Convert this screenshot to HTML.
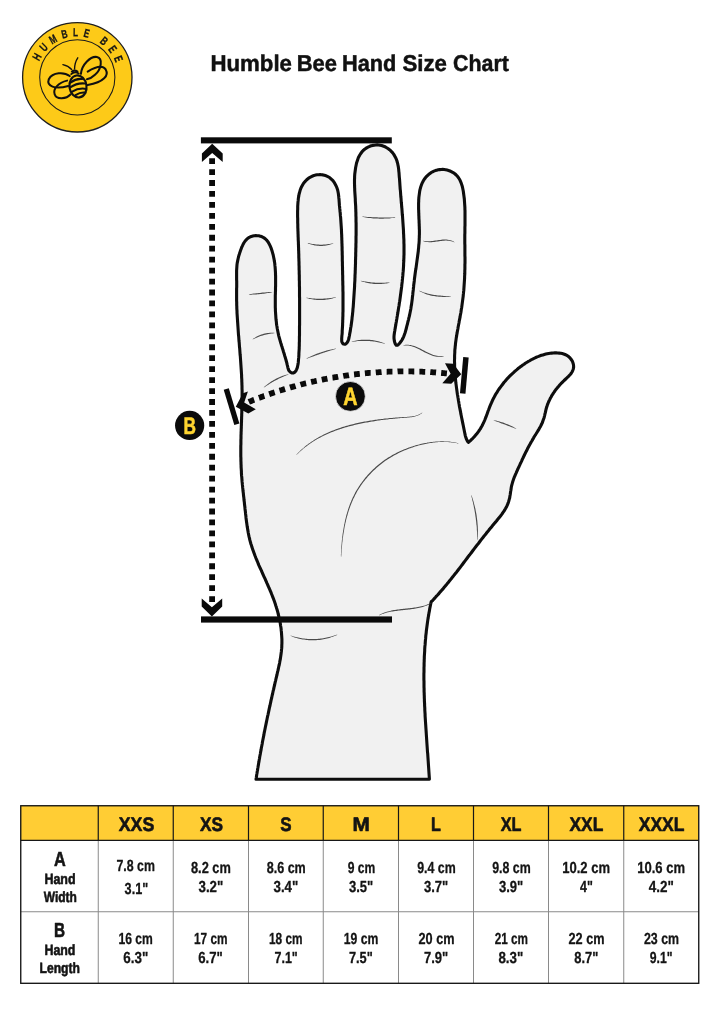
<!DOCTYPE html>
<html lang="en"><head><meta charset="utf-8"><title>Humble Bee Hand Size Chart</title>
<style>html,body{margin:0;padding:0;background:#fff}body{width:720px;height:1018px;overflow:hidden}svg{display:block;will-change:transform}text{font-family:"Liberation Sans",sans-serif;text-rendering:geometricPrecision}</style>
</head><body>
<svg width="720" height="1018" viewBox="0 0 720 1018">
<rect width="720" height="1018" fill="#ffffff"/>
<g id="logo">
<circle cx="77.3" cy="77.3" r="54.7" fill="#fdca18" stroke="#1f1f1f" stroke-width="1.3"/>
<circle cx="77.3" cy="77.3" r="37.6" fill="none" stroke="#1a1a1a" stroke-width="1.05"/>
<path id="arc" d="M 39.37 61.74 A 41.00 41.00 0 0 1 115.83 91.32" fill="none"/>
<text font-size="11.8" font-weight="bold" fill="#161616" stroke="#161616" stroke-width="0.3" letter-spacing="7.00" textLength="102.80" lengthAdjust="spacingAndGlyphs"><textPath href="#arc">HUMBLE BEE</textPath></text>
<g transform="translate(42 50) scale(0.097222)" fill="none" stroke="#101010" stroke-width="21" stroke-linecap="round" stroke-linejoin="round">
<path d="M285 268 C230 225 110 225 70 300 C45 370 130 410 270 370"/>
<path d="M258 315 C170 335 110 400 130 455 C150 515 250 505 295 455"/>
<path d="M400 245 C410 150 500 60 565 72 C630 85 610 200 545 255 C520 280 490 295 462 300"/>
<path d="M470 222 C540 180 620 150 655 200 C690 260 640 330 470 360"/>
<ellipse cx="370" cy="375" rx="88" ry="114" transform="rotate(-8 370 375)" fill="#fdca18" stroke-width="22"/>
<path d="M292 335 Q350 290 415 298 M290 385 Q360 335 445 345 M305 430 Q380 385 455 400 M345 465 Q400 430 448 440"/>
<path d="M300 248 Q335 215 378 242 M306 222 Q335 200 366 222" stroke-width="18"/>
<path d="M305 200 Q270 160 215 150 M335 195 Q335 130 368 80" stroke-width="14"/>
</g>
</g>
<text y="71" font-size="22.8" font-weight="bold" fill="#111111" stroke="#111111" stroke-width="0.5" stroke-linejoin="round"><tspan x="210.49" textLength="81.51" lengthAdjust="spacingAndGlyphs">Humble</tspan> <tspan x="296.68" textLength="40.25" lengthAdjust="spacingAndGlyphs">Bee</tspan> <tspan x="342.03" textLength="54.32" lengthAdjust="spacingAndGlyphs">Hand</tspan> <tspan x="402.43" textLength="44.49" lengthAdjust="spacingAndGlyphs">Size</tspan> <tspan x="453.10" textLength="55.80" lengthAdjust="spacingAndGlyphs">Chart</tspan></text>
<g id="hand">
<path d="M256.0 779.2 L256.3 777.7 L256.5 776.2 L256.7 774.8 L257.0 773.3 L257.2 771.8 L257.5 770.3 L257.7 768.8 L258.0 767.3 L258.2 765.9 L258.5 764.4 L258.7 762.9 L259.0 761.4 L259.2 760.0 L259.5 758.5 L259.7 757.0 L260.0 755.5 L260.3 754.0 L260.5 752.6 L260.8 751.1 L261.1 749.6 L261.3 748.1 L261.6 746.7 L261.9 745.2 L262.2 743.7 L262.4 742.2 L262.7 740.8 L263.0 739.3 L263.3 737.8 L263.6 736.3 L263.9 734.9 L264.1 733.4 L264.4 731.9 L264.7 730.5 L265.0 729.0 L265.3 727.5 L265.6 726.0 L265.9 724.6 L266.2 723.1 L266.5 721.6 L266.8 720.2 L267.1 718.7 L267.4 717.2 L267.7 715.8 L268.1 714.3 L268.4 712.8 L268.7 711.4 L269.0 709.9 L269.3 708.4 L269.6 707.0 L270.0 705.5 L270.3 704.0 L270.6 702.6 L270.9 701.1 L271.2 699.6 L271.6 698.2 L271.9 696.7 L272.2 695.2 L272.6 693.8 L272.9 692.3 L273.2 690.8 L273.6 689.4 L273.9 687.9 L274.2 686.5 L274.6 685.0 L274.9 683.5 L275.2 682.1 L275.6 680.6 L275.9 679.2 L276.3 677.7 L276.6 676.2 L277.0 674.8 L277.3 673.3 L277.6 671.8 L278.0 670.4 L278.3 668.9 L278.6 667.5 L278.9 666.0 L279.3 664.5 L279.6 663.0 L279.8 661.6 L280.1 660.1 L280.4 658.6 L280.6 657.1 L280.8 655.7 L281.0 654.2 L281.2 652.7 L281.4 651.2 L281.5 649.7 L281.7 648.2 L281.8 646.7 L281.8 645.2 L281.9 643.7 L281.9 642.2 L281.9 640.7 L281.9 639.2 L281.8 637.7 L281.7 636.2 L281.6 634.7 L281.5 633.2 L281.4 631.7 L281.2 630.2 L281.1 628.7 L280.9 627.3 L280.6 625.8 L280.4 624.3 L280.2 622.8 L279.9 621.3 L279.6 619.9 L279.3 618.4 L278.9 616.9 L278.6 615.5 L278.2 614.0 L277.9 612.6 L277.5 611.1 L277.1 609.7 L276.6 608.2 L276.2 606.8 L275.7 605.4 L275.3 603.9 L274.8 602.5 L274.3 601.1 L273.8 599.7 L273.3 598.3 L272.7 596.9 L272.2 595.5 L271.6 594.1 L271.1 592.7 L270.5 591.3 L269.9 589.9 L269.3 588.5 L268.7 587.2 L268.1 585.8 L267.5 584.4 L266.9 583.1 L266.3 581.7 L265.7 580.3 L265.1 578.9 L264.5 577.6 L263.8 576.2 L263.2 574.8 L262.6 573.5 L262.0 572.1 L261.4 570.7 L260.8 569.4 L260.1 568.0 L259.5 566.6 L258.9 565.3 L258.3 563.9 L257.8 562.5 L257.2 561.1 L256.6 559.7 L256.0 558.3 L255.5 556.9 L254.9 555.5 L254.4 554.1 L253.9 552.7 L253.4 551.3 L252.9 549.9 L252.4 548.5 L251.9 547.1 L251.5 545.6 L251.0 544.2 L250.6 542.8 L250.2 541.3 L249.8 539.9 L249.5 538.4 L249.1 536.9 L248.8 535.5 L248.5 534.0 L248.2 532.5 L248.0 531.1 L247.7 529.6 L247.5 528.1 L247.2 526.6 L247.0 525.1 L246.8 523.6 L246.6 522.2 L246.4 520.7 L246.2 519.2 L246.0 517.7 L245.9 516.2 L245.7 514.7 L245.5 513.2 L245.4 511.7 L245.2 510.2 L245.0 508.7 L244.9 507.2 L244.7 505.8 L244.5 504.3 L244.4 502.8 L244.2 501.3 L244.0 499.8 L243.9 498.3 L243.7 496.8 L243.5 495.3 L243.4 493.8 L243.2 492.3 L243.0 490.8 L242.9 489.4 L242.7 487.9 L242.6 486.4 L242.4 484.9 L242.3 483.4 L242.1 481.9 L242.0 480.4 L241.9 478.9 L241.8 477.4 L241.6 475.9 L241.5 474.4 L241.4 472.9 L241.4 471.4 L241.3 469.9 L241.2 468.4 L241.1 466.9 L241.1 465.4 L241.0 463.9 L241.0 462.4 L240.9 460.9 L240.9 459.4 L240.9 457.9 L240.8 456.4 L240.8 454.9 L240.8 453.4 L240.8 451.9 L240.8 450.4 L240.8 448.9 L240.8 447.4 L240.8 445.9 L240.9 444.4 L240.9 442.9 L240.9 441.4 L240.9 439.9 L241.0 438.4 L241.0 436.9 L241.0 435.4 L241.1 433.9 L241.1 432.4 L241.2 430.9 L241.2 429.4 L241.3 427.9 L241.3 426.4 L241.4 424.9 L241.4 423.4 L241.5 421.9 L241.5 420.4 L241.6 418.9 L241.6 417.4 L241.7 415.9 L241.7 414.4 L241.8 412.9 L241.8 411.4 L241.8 409.9 L241.9 408.4 L241.9 406.9 L242.0 405.4 L242.0 403.9 L242.0 402.4 L242.0 400.9 L242.1 399.4 L242.1 397.9 L242.1 396.4 L242.1 394.9 L242.1 393.4 L242.1 391.9 L242.1 390.4 L242.0 388.9 L242.0 387.4 L242.0 385.9 L241.9 384.4 L241.9 382.9 L241.8 381.4 L241.8 379.9 L241.7 378.4 L241.6 376.9 L241.6 375.4 L241.5 373.9 L241.4 372.4 L241.3 370.9 L241.2 369.4 L241.1 367.9 L241.0 366.4 L240.9 364.9 L240.8 363.4 L240.7 361.9 L240.6 360.5 L240.5 359.0 L240.4 357.5 L240.3 356.0 L240.1 354.5 L240.0 353.0 L239.9 351.5 L239.8 350.0 L239.7 348.5 L239.5 347.0 L239.4 345.5 L239.3 344.0 L239.2 342.5 L239.0 341.0 L238.9 339.5 L238.8 338.0 L238.7 336.5 L238.5 335.0 L238.4 333.5 L238.3 332.0 L238.2 330.5 L238.1 329.0 L238.0 327.5 L237.9 326.1 L237.8 324.6 L237.7 323.1 L237.6 321.6 L237.5 320.1 L237.4 318.6 L237.3 317.1 L237.2 315.6 L237.1 314.1 L237.0 312.6 L237.0 311.1 L236.9 309.6 L236.8 308.1 L236.8 306.6 L236.7 305.1 L236.7 303.6 L236.7 302.1 L236.6 300.6 L236.6 299.1 L236.6 297.6 L236.6 296.1 L236.6 294.6 L236.6 293.1 L236.6 291.6 L236.6 290.1 L236.6 288.6 L236.7 287.1 L236.7 285.6 L236.7 284.1 L236.7 282.6 L236.7 281.1 L236.6 279.6 L236.6 278.1 L236.6 276.6 L236.6 275.1 L236.6 273.6 L236.6 272.1 L236.6 270.6 L236.7 269.1 L236.8 267.6 L236.9 266.1 L237.0 264.6 L237.2 263.1 L237.5 261.6 L237.8 260.1 L238.1 258.7 L238.5 257.2 L238.8 255.8 L239.3 254.3 L239.7 252.9 L240.2 251.5 L240.7 250.1 L241.2 248.7 L241.7 247.3 L242.4 245.9 L243.0 244.5 L243.7 243.2 L244.5 242.0 L245.4 240.7 L246.4 239.6 L247.5 238.6 L248.7 237.7 L250.0 237.0 L251.4 236.4 L252.8 236.0 L254.3 235.7 L255.8 235.6 L257.3 235.7 L258.8 235.8 L260.3 236.2 L261.7 236.6 L263.1 237.3 L264.3 238.1 L265.5 239.0 L266.6 240.1 L267.5 241.2 L268.4 242.5 L269.1 243.7 L269.8 245.1 L270.4 246.4 L271.0 247.8 L271.5 249.3 L272.0 250.7 L272.4 252.1 L272.8 253.6 L273.2 255.0 L273.5 256.5 L273.8 258.0 L274.1 259.4 L274.3 260.9 L274.6 262.4 L274.8 263.9 L274.9 265.4 L275.1 266.9 L275.2 268.4 L275.3 269.8 L275.4 271.3 L275.5 272.8 L275.5 274.3 L275.6 275.8 L275.6 277.3 L275.6 278.8 L275.6 280.3 L275.6 281.8 L275.6 283.3 L275.6 284.8 L275.6 286.3 L275.5 287.8 L275.5 289.3 L275.5 290.8 L275.4 292.3 L275.4 293.8 L275.3 295.3 L275.3 296.8 L275.3 298.3 L275.3 299.8 L275.3 301.3 L275.3 302.8 L275.3 304.3 L275.3 305.9 L275.3 307.4 L275.4 308.9 L275.4 310.3 L275.5 311.8 L275.6 313.3 L275.7 314.8 L275.8 316.3 L275.9 317.8 L276.0 319.3 L276.2 320.8 L276.4 322.3 L276.5 323.8 L276.7 325.3 L277.0 326.8 L277.2 328.3 L277.5 329.7 L277.8 331.2 L278.1 332.7 L278.4 334.1 L278.7 335.6 L279.1 337.1 L279.5 338.5 L279.9 339.9 L280.3 341.4 L280.7 342.8 L281.2 344.3 L281.6 345.7 L282.1 347.1 L282.5 348.6 L283.0 350.0 L283.4 351.4 L283.9 352.9 L284.3 354.3 L284.7 355.7 L285.2 357.2 L285.6 358.6 L286.0 360.0 L286.4 361.5 L286.8 362.9 L287.1 364.4 L287.5 365.9 L287.8 367.3 L288.2 368.8 L288.7 370.2 L289.6 371.4 L290.7 372.4 L292.1 373.0 L293.5 372.9 L294.8 372.1 L295.8 371.0 L296.5 369.6 L297.1 368.2 L297.5 366.8 L297.8 365.3 L298.1 363.9 L298.3 362.4 L298.4 360.9 L298.5 359.4 L298.7 357.9 L298.8 356.4 L298.9 354.9 L298.9 353.4 L299.0 351.9 L299.1 350.4 L299.2 348.9 L299.2 347.4 L299.3 345.9 L299.3 344.4 L299.3 342.9 L299.4 341.4 L299.4 339.9 L299.4 338.4 L299.4 336.9 L299.5 335.4 L299.5 333.9 L299.5 332.4 L299.5 330.9 L299.5 329.4 L299.5 327.9 L299.5 326.4 L299.6 324.9 L299.6 323.4 L299.6 321.9 L299.6 320.4 L299.6 318.9 L299.6 317.4 L299.6 315.9 L299.6 314.4 L299.6 312.9 L299.6 311.4 L299.6 309.9 L299.6 308.4 L299.6 306.9 L299.6 305.4 L299.6 303.9 L299.6 302.4 L299.6 300.9 L299.6 299.4 L299.6 297.9 L299.5 296.4 L299.5 294.9 L299.5 293.4 L299.5 291.9 L299.5 290.4 L299.5 288.9 L299.5 287.4 L299.4 285.9 L299.4 284.4 L299.4 282.9 L299.4 281.4 L299.3 279.9 L299.3 278.4 L299.3 276.9 L299.3 275.4 L299.2 273.9 L299.2 272.4 L299.2 270.9 L299.1 269.4 L299.1 267.9 L299.1 266.4 L299.0 264.9 L299.0 263.4 L299.0 261.9 L298.9 260.4 L298.9 258.9 L298.8 257.4 L298.8 255.9 L298.8 254.4 L298.7 252.9 L298.7 251.4 L298.6 249.9 L298.6 248.4 L298.5 246.9 L298.5 245.4 L298.4 243.9 L298.4 242.4 L298.3 240.9 L298.2 239.4 L298.2 237.9 L298.1 236.4 L298.1 234.9 L298.0 233.4 L298.0 231.9 L297.9 230.4 L297.9 228.9 L297.8 227.4 L297.8 225.9 L297.8 224.4 L297.7 222.9 L297.7 221.4 L297.7 219.9 L297.7 218.4 L297.6 216.9 L297.6 215.4 L297.6 213.9 L297.6 212.4 L297.6 210.9 L297.7 209.4 L297.7 207.9 L297.7 206.4 L297.8 204.9 L297.9 203.4 L298.0 201.9 L298.2 200.4 L298.3 198.9 L298.5 197.4 L298.8 195.9 L299.0 194.5 L299.4 193.0 L299.8 191.6 L300.2 190.1 L300.7 188.7 L301.3 187.3 L302.0 186.0 L302.7 184.7 L303.5 183.4 L304.4 182.2 L305.4 181.1 L306.5 180.0 L307.6 179.0 L308.8 178.1 L310.0 177.3 L311.4 176.6 L312.7 176.0 L314.1 175.4 L315.6 175.1 L317.1 174.8 L318.6 174.7 L320.1 174.6 L321.5 174.7 L323.0 174.9 L324.5 175.3 L325.9 175.7 L327.3 176.3 L328.6 177.0 L329.9 177.8 L331.0 178.8 L332.1 179.8 L333.1 180.9 L334.0 182.2 L334.8 183.4 L335.5 184.7 L336.2 186.1 L336.8 187.5 L337.3 188.9 L337.7 190.3 L338.0 191.8 L338.3 193.3 L338.5 194.7 L338.7 196.2 L338.8 197.7 L339.0 199.2 L339.1 200.7 L339.2 202.2 L339.3 203.7 L339.4 205.2 L339.6 206.7 L339.7 208.2 L339.9 209.7 L340.0 211.2 L340.2 212.7 L340.3 214.2 L340.4 215.7 L340.6 217.1 L340.7 218.6 L340.8 220.1 L340.9 221.6 L341.0 223.1 L341.1 224.6 L341.2 226.1 L341.3 227.6 L341.4 229.1 L341.5 230.6 L341.5 232.1 L341.6 233.6 L341.7 235.1 L341.7 236.6 L341.8 238.1 L341.8 239.6 L341.9 241.1 L341.9 242.6 L342.0 244.1 L342.0 245.6 L342.1 247.1 L342.1 248.6 L342.1 250.1 L342.2 251.6 L342.2 253.1 L342.2 254.6 L342.3 256.1 L342.3 257.6 L342.3 259.1 L342.3 260.6 L342.4 262.1 L342.4 263.6 L342.4 265.1 L342.5 266.6 L342.5 268.1 L342.5 269.6 L342.6 271.1 L342.6 272.6 L342.6 274.1 L342.7 275.6 L342.7 277.1 L342.7 278.6 L342.7 280.1 L342.8 281.6 L342.8 283.1 L342.8 284.6 L342.9 286.1 L342.9 287.6 L342.9 289.1 L342.9 290.6 L343.0 292.1 L343.0 293.6 L343.0 295.1 L343.0 296.6 L343.0 298.1 L343.0 299.6 L343.0 301.1 L343.0 302.6 L343.0 304.1 L343.0 305.6 L343.0 307.1 L343.0 308.6 L343.0 310.1 L343.0 311.6 L342.9 313.1 L342.9 314.6 L342.9 316.1 L342.8 317.6 L342.8 319.1 L342.7 320.6 L342.7 322.1 L342.6 323.6 L342.6 325.1 L342.5 326.6 L342.4 328.1 L342.3 329.6 L342.2 331.1 L342.2 332.6 L342.1 334.1 L341.9 335.6 L341.8 337.1 L341.7 338.6 L341.7 340.1 L341.8 341.6 L342.4 343.0 L343.5 344.0 L344.9 344.3 L346.2 343.6 L347.2 342.4 L348.0 341.1 L348.5 339.7 L348.9 338.3 L349.2 336.8 L349.5 335.3 L349.7 333.9 L350.0 332.4 L350.3 330.9 L350.5 329.4 L350.7 327.9 L351.0 326.5 L351.2 325.0 L351.4 323.5 L351.6 322.0 L351.8 320.5 L352.0 319.0 L352.1 317.5 L352.3 316.0 L352.5 314.6 L352.6 313.1 L352.8 311.6 L352.9 310.1 L353.0 308.6 L353.2 307.1 L353.3 305.6 L353.4 304.1 L353.5 302.6 L353.6 301.1 L353.7 299.6 L353.8 298.1 L353.9 296.6 L354.0 295.1 L354.1 293.6 L354.2 292.1 L354.3 290.6 L354.4 289.1 L354.5 287.6 L354.6 286.1 L354.6 284.6 L354.7 283.1 L354.8 281.6 L354.9 280.1 L354.9 278.6 L355.0 277.1 L355.0 275.6 L355.1 274.1 L355.2 272.6 L355.2 271.1 L355.3 269.6 L355.3 268.1 L355.4 266.6 L355.4 265.1 L355.5 263.6 L355.5 262.1 L355.5 260.6 L355.6 259.1 L355.6 257.6 L355.7 256.1 L355.7 254.6 L355.7 253.1 L355.8 251.6 L355.8 250.1 L355.8 248.6 L355.9 247.1 L355.9 245.6 L355.9 244.1 L356.0 242.6 L356.0 241.1 L356.0 239.6 L356.0 238.1 L356.0 236.6 L356.1 235.1 L356.1 233.6 L356.1 232.1 L356.1 230.6 L356.1 229.1 L356.1 227.6 L356.1 226.1 L356.1 224.6 L356.1 223.1 L356.0 221.6 L356.0 220.1 L356.0 218.6 L356.0 217.1 L355.9 215.6 L355.9 214.1 L355.9 212.6 L355.8 211.1 L355.8 209.6 L355.7 208.1 L355.7 206.6 L355.6 205.1 L355.5 203.6 L355.4 202.1 L355.3 200.6 L355.3 199.1 L355.2 197.6 L355.1 196.1 L355.0 194.6 L354.9 193.1 L354.8 191.7 L354.7 190.2 L354.7 188.7 L354.6 187.2 L354.6 185.7 L354.5 184.2 L354.5 182.7 L354.5 181.2 L354.5 179.7 L354.6 178.2 L354.6 176.7 L354.7 175.2 L354.8 173.7 L355.0 172.2 L355.2 170.7 L355.4 169.2 L355.6 167.7 L355.9 166.2 L356.2 164.8 L356.5 163.3 L356.9 161.9 L357.4 160.4 L357.9 159.0 L358.4 157.6 L359.1 156.3 L359.8 155.0 L360.6 153.7 L361.5 152.5 L362.4 151.3 L363.5 150.2 L364.6 149.3 L365.8 148.4 L367.1 147.6 L368.5 146.9 L369.8 146.3 L371.2 145.8 L372.7 145.4 L374.2 145.2 L375.7 145.0 L377.2 144.9 L378.7 145.0 L380.1 145.2 L381.6 145.5 L383.0 146.0 L384.4 146.5 L385.8 147.2 L387.1 148.0 L388.3 148.8 L389.5 149.7 L390.6 150.7 L391.7 151.8 L392.7 152.9 L393.6 154.1 L394.4 155.4 L395.1 156.7 L395.8 158.0 L396.4 159.4 L396.9 160.8 L397.3 162.2 L397.7 163.7 L398.0 165.2 L398.3 166.6 L398.5 168.1 L398.7 169.6 L398.8 171.1 L399.0 172.6 L399.1 174.1 L399.2 175.6 L399.3 177.1 L399.5 178.6 L399.6 180.1 L399.7 181.6 L399.8 183.1 L399.9 184.6 L400.0 186.1 L400.1 187.6 L400.2 189.1 L400.4 190.6 L400.5 192.0 L400.6 193.5 L400.7 195.0 L400.8 196.5 L401.0 198.0 L401.1 199.5 L401.2 201.0 L401.3 202.5 L401.5 204.0 L401.6 205.5 L401.7 207.0 L401.9 208.5 L402.0 210.0 L402.1 211.5 L402.2 213.0 L402.3 214.5 L402.5 216.0 L402.6 217.5 L402.7 219.0 L402.8 220.5 L402.9 222.0 L403.0 223.5 L403.1 225.0 L403.2 226.5 L403.3 227.9 L403.4 229.4 L403.5 230.9 L403.5 232.4 L403.6 233.9 L403.7 235.4 L403.7 236.9 L403.8 238.4 L403.9 239.9 L403.9 241.4 L403.9 242.9 L404.0 244.4 L404.0 245.9 L404.0 247.4 L404.0 248.9 L404.0 250.4 L404.0 251.9 L404.0 253.4 L404.0 254.9 L403.9 256.4 L403.9 257.9 L403.8 259.4 L403.8 260.9 L403.7 262.4 L403.6 263.9 L403.6 265.4 L403.5 266.9 L403.4 268.4 L403.3 269.9 L403.2 271.4 L403.0 272.9 L402.9 274.4 L402.8 275.9 L402.6 277.4 L402.5 278.9 L402.3 280.4 L402.2 281.9 L402.0 283.4 L401.8 284.9 L401.7 286.4 L401.5 287.8 L401.3 289.3 L401.1 290.8 L400.9 292.3 L400.7 293.8 L400.5 295.3 L400.3 296.8 L400.1 298.3 L399.9 299.7 L399.7 301.2 L399.4 302.7 L399.2 304.2 L399.0 305.7 L398.7 307.2 L398.5 308.6 L398.3 310.1 L398.0 311.6 L397.8 313.1 L397.5 314.6 L397.3 316.0 L397.0 317.5 L396.8 319.0 L396.5 320.5 L396.3 322.0 L396.0 323.4 L395.8 324.9 L395.5 326.4 L395.3 327.9 L395.0 329.3 L394.8 330.8 L394.5 332.3 L394.3 333.8 L394.1 335.3 L394.0 336.8 L394.0 338.3 L394.2 339.8 L394.4 341.2 L394.8 342.7 L395.4 344.1 L396.3 345.3 L397.7 345.1 L398.8 344.1 L399.8 343.0 L400.7 341.8 L401.6 340.6 L402.4 339.3 L403.0 338.0 L403.7 336.6 L404.2 335.2 L404.7 333.8 L405.2 332.4 L405.6 330.9 L406.0 329.5 L406.4 328.0 L406.7 326.6 L407.1 325.1 L407.5 323.7 L407.8 322.2 L408.2 320.8 L408.6 319.3 L408.9 317.8 L409.3 316.4 L409.6 314.9 L409.9 313.5 L410.2 312.0 L410.5 310.5 L410.8 309.0 L411.0 307.6 L411.2 306.1 L411.5 304.6 L411.7 303.1 L411.9 301.6 L412.1 300.1 L412.3 298.6 L412.4 297.2 L412.6 295.7 L412.8 294.2 L412.9 292.7 L413.1 291.2 L413.3 289.7 L413.4 288.2 L413.6 286.7 L413.7 285.2 L413.9 283.7 L414.1 282.2 L414.3 280.7 L414.4 279.3 L414.6 277.8 L414.8 276.3 L415.0 274.8 L415.2 273.3 L415.4 271.8 L415.6 270.3 L415.9 268.9 L416.1 267.4 L416.3 265.9 L416.5 264.4 L416.7 262.9 L416.9 261.4 L417.1 259.9 L417.3 258.5 L417.5 257.0 L417.7 255.5 L417.9 254.0 L418.1 252.5 L418.3 251.0 L418.4 249.5 L418.6 248.0 L418.7 246.5 L418.8 245.0 L419.0 243.5 L419.1 242.0 L419.2 240.5 L419.2 239.0 L419.3 237.5 L419.3 236.0 L419.4 234.5 L419.4 233.0 L419.4 231.5 L419.4 230.0 L419.3 228.5 L419.3 227.0 L419.2 225.5 L419.2 224.0 L419.1 222.5 L419.1 221.0 L419.0 219.5 L418.9 218.1 L418.9 216.6 L418.8 215.1 L418.8 213.6 L418.7 212.1 L418.7 210.6 L418.6 209.1 L418.6 207.6 L418.6 206.1 L418.6 204.6 L418.6 203.1 L418.7 201.6 L418.7 200.1 L418.8 198.6 L418.9 197.1 L419.1 195.6 L419.3 194.1 L419.5 192.6 L419.7 191.1 L420.0 189.6 L420.4 188.2 L420.8 186.7 L421.3 185.3 L421.8 183.9 L422.4 182.6 L423.1 181.2 L423.9 179.9 L424.7 178.7 L425.6 177.5 L426.6 176.4 L427.7 175.3 L428.8 174.3 L430.0 173.4 L431.2 172.5 L432.5 171.8 L433.9 171.1 L435.3 170.6 L436.7 170.2 L438.2 169.8 L439.7 169.6 L441.2 169.5 L442.7 169.4 L444.2 169.5 L445.6 169.7 L447.1 170.1 L448.5 170.5 L450.0 171.0 L451.3 171.6 L452.6 172.3 L453.9 173.1 L455.1 174.0 L456.2 175.0 L457.3 176.1 L458.2 177.3 L459.0 178.5 L459.8 179.8 L460.4 181.2 L461.0 182.6 L461.5 184.0 L462.0 185.4 L462.4 186.9 L462.7 188.3 L463.0 189.8 L463.3 191.3 L463.5 192.7 L463.7 194.2 L463.9 195.7 L464.1 197.2 L464.3 198.7 L464.4 200.2 L464.5 201.7 L464.6 203.2 L464.7 204.7 L464.8 206.2 L464.9 207.7 L464.9 209.2 L465.0 210.7 L465.0 212.2 L465.0 213.7 L465.0 215.2 L465.0 216.7 L465.0 218.2 L465.0 219.7 L465.0 221.2 L465.0 222.7 L465.0 224.2 L465.0 225.7 L464.9 227.2 L464.9 228.7 L464.9 230.2 L464.9 231.7 L464.9 233.2 L464.8 234.7 L464.8 236.2 L464.8 237.7 L464.8 239.2 L464.8 240.7 L464.8 242.2 L464.8 243.7 L464.9 245.2 L464.9 246.7 L464.9 248.2 L464.9 249.7 L464.9 251.2 L464.9 252.7 L464.9 254.2 L464.9 255.7 L465.0 257.2 L465.0 258.7 L465.0 260.2 L465.0 261.7 L465.0 263.2 L464.9 264.7 L464.9 266.2 L464.9 267.7 L464.9 269.2 L464.8 270.7 L464.8 272.2 L464.8 273.7 L464.7 275.2 L464.6 276.7 L464.6 278.2 L464.5 279.7 L464.4 281.2 L464.3 282.7 L464.2 284.2 L464.1 285.7 L464.0 287.2 L463.9 288.7 L463.8 290.2 L463.6 291.7 L463.5 293.2 L463.3 294.6 L463.2 296.1 L463.0 297.6 L462.8 299.1 L462.6 300.6 L462.4 302.1 L462.2 303.6 L462.0 305.1 L461.8 306.6 L461.6 308.0 L461.3 309.5 L461.1 311.0 L460.9 312.5 L460.6 314.0 L460.3 315.4 L460.1 316.9 L459.8 318.4 L459.5 319.9 L459.2 321.3 L459.0 322.8 L458.7 324.3 L458.4 325.8 L458.1 327.2 L457.9 328.7 L457.6 330.2 L457.3 331.7 L457.1 333.1 L456.8 334.6 L456.6 336.1 L456.3 337.6 L456.1 339.1 L455.9 340.6 L455.7 342.0 L455.5 343.5 L455.4 345.0 L455.2 346.5 L455.1 348.0 L454.9 349.5 L454.8 351.0 L454.8 352.5 L454.7 354.0 L454.6 355.5 L454.6 357.0 L454.6 358.5 L454.5 360.0 L454.5 361.5 L454.6 363.0 L454.6 364.5 L454.6 366.0 L454.7 367.5 L454.7 369.0 L454.8 370.5 L454.9 372.0 L455.0 373.5 L455.1 375.0 L455.3 376.5 L455.4 378.0 L455.5 379.5 L455.7 381.0 L455.8 382.5 L456.0 383.9 L456.2 385.4 L456.4 386.9 L456.6 388.4 L456.8 389.9 L457.0 391.4 L457.2 392.9 L457.4 394.3 L457.7 395.8 L457.9 397.3 L458.2 398.8 L458.4 400.3 L458.7 401.8 L458.9 403.2 L459.2 404.7 L459.4 406.2 L459.7 407.7 L460.0 409.1 L460.3 410.6 L460.6 412.1 L460.8 413.6 L461.1 415.0 L461.4 416.5 L461.7 418.0 L462.0 419.4 L462.3 420.9 L462.6 422.4 L462.9 423.9 L463.2 425.3 L463.5 426.8 L463.8 428.3 L464.1 429.7 L464.4 431.2 L464.7 432.7 L465.0 434.1 L465.3 435.6 L465.7 437.1 L466.2 438.5 L466.8 439.8 L467.5 441.2 L468.4 442.4 L468.4 442.4 L469.6 441.4 L470.7 440.4 L471.7 439.3 L472.8 438.3 L473.8 437.2 L474.8 436.1 L475.8 434.9 L476.8 433.8 L477.7 432.6 L478.6 431.4 L479.4 430.1 L480.3 428.9 L481.0 427.6 L481.8 426.3 L482.5 425.0 L483.1 423.6 L483.8 422.2 L484.4 420.9 L485.0 419.5 L485.5 418.1 L486.1 416.7 L486.6 415.3 L487.1 413.9 L487.6 412.5 L488.1 411.0 L488.7 409.6 L489.2 408.2 L489.7 406.8 L490.3 405.4 L490.9 404.0 L491.5 402.7 L492.1 401.3 L492.7 399.9 L493.4 398.6 L494.1 397.3 L494.8 395.9 L495.5 394.6 L496.3 393.3 L497.1 392.1 L497.9 390.8 L498.7 389.5 L499.6 388.3 L500.5 387.1 L501.4 385.9 L502.3 384.7 L503.2 383.5 L504.1 382.3 L505.1 381.2 L506.1 380.0 L507.1 378.9 L508.1 377.8 L509.2 376.7 L510.2 375.7 L511.3 374.6 L512.4 373.6 L513.5 372.6 L514.6 371.5 L515.7 370.6 L516.9 369.6 L518.0 368.6 L519.2 367.7 L520.4 366.8 L521.6 365.9 L522.8 365.0 L524.1 364.2 L525.3 363.3 L526.6 362.5 L527.9 361.7 L529.2 361.0 L530.5 360.2 L531.8 359.5 L533.1 358.8 L534.5 358.2 L535.8 357.5 L537.2 356.9 L538.6 356.4 L540.0 355.8 L541.4 355.3 L542.9 354.9 L544.3 354.5 L545.8 354.1 L547.2 353.8 L548.7 353.5 L550.2 353.3 L551.7 353.1 L553.2 353.0 L554.7 352.9 L556.2 352.9 L557.7 353.0 L559.2 353.1 L560.7 353.3 L562.2 353.6 L563.6 354.0 L565.0 354.5 L566.4 355.2 L567.7 355.9 L568.9 356.8 L570.0 357.9 L570.9 359.0 L571.8 360.3 L572.5 361.6 L573.0 363.0 L573.4 364.4 L573.6 365.9 L573.6 367.4 L573.3 368.9 L572.8 370.3 L572.2 371.7 L571.4 373.0 L570.5 374.2 L569.5 375.3 L568.5 376.4 L567.4 377.4 L566.3 378.5 L565.2 379.5 L564.1 380.5 L563.0 381.6 L562.0 382.6 L560.9 383.7 L559.9 384.8 L558.9 386.0 L557.9 387.1 L557.0 388.3 L556.0 389.4 L555.1 390.6 L554.3 391.9 L553.4 393.1 L552.6 394.4 L551.8 395.6 L551.1 396.9 L550.3 398.3 L549.7 399.6 L549.0 401.0 L548.4 402.3 L547.9 403.7 L547.3 405.1 L546.9 406.6 L546.4 408.0 L546.0 409.5 L545.7 410.9 L545.4 412.4 L545.0 413.8 L544.7 415.3 L544.3 416.8 L543.9 418.2 L543.4 419.6 L542.9 421.1 L542.4 422.5 L541.8 423.8 L541.1 425.2 L540.5 426.5 L539.7 427.8 L539.0 429.1 L538.2 430.4 L537.4 431.7 L536.6 433.0 L535.8 434.3 L535.0 435.5 L534.2 436.8 L533.5 438.1 L532.7 439.4 L532.0 440.7 L531.2 442.0 L530.5 443.3 L529.8 444.6 L529.0 446.0 L528.3 447.3 L527.6 448.6 L527.0 450.0 L526.3 451.3 L525.6 452.6 L524.9 454.0 L524.3 455.3 L523.6 456.7 L523.0 458.0 L522.3 459.4 L521.7 460.8 L521.1 462.1 L520.4 463.5 L519.8 464.9 L519.2 466.2 L518.5 467.6 L517.9 469.0 L517.3 470.3 L516.7 471.7 L516.1 473.1 L515.5 474.4 L514.9 475.8 L514.3 477.2 L513.8 478.6 L513.3 480.0 L512.8 481.5 L512.4 482.9 L512.0 484.4 L511.6 485.8 L511.3 487.3 L511.1 488.8 L510.9 490.3 L510.6 491.7 L510.4 493.2 L510.2 494.7 L509.9 496.2 L509.7 497.7 L509.3 499.1 L508.9 500.6 L508.5 502.0 L508.0 503.4 L507.4 504.8 L506.8 506.2 L506.1 507.5 L505.4 508.8 L504.6 510.1 L503.8 511.4 L502.9 512.6 L502.1 513.9 L501.2 515.1 L500.3 516.3 L499.3 517.5 L498.4 518.6 L497.4 519.8 L496.5 521.0 L495.5 522.1 L494.5 523.2 L493.6 524.4 L492.6 525.5 L491.7 526.7 L490.7 527.9 L489.7 529.0 L488.8 530.2 L487.8 531.4 L486.9 532.5 L486.0 533.7 L485.0 534.9 L484.1 536.1 L483.2 537.2 L482.2 538.4 L481.3 539.6 L480.4 540.8 L479.5 542.0 L478.6 543.2 L477.6 544.4 L476.7 545.6 L475.8 546.7 L474.9 547.9 L474.0 549.1 L473.1 550.3 L472.2 551.5 L471.3 552.7 L470.4 553.9 L469.5 555.1 L468.5 556.3 L467.6 557.5 L466.7 558.7 L465.8 559.9 L464.9 561.1 L464.0 562.3 L463.1 563.5 L462.2 564.7 L461.3 565.9 L460.4 567.1 L459.5 568.3 L458.5 569.5 L457.6 570.7 L456.7 571.9 L455.8 573.0 L454.8 574.2 L453.9 575.4 L453.0 576.6 L452.0 577.8 L451.1 578.9 L450.2 580.1 L449.2 581.3 L448.3 582.4 L447.3 583.6 L446.4 584.8 L445.4 585.9 L444.4 587.1 L443.5 588.2 L442.5 589.4 L441.5 590.5 L440.5 591.6 L439.5 592.8 L438.6 593.9 L437.6 595.0 L436.5 596.1 L435.5 597.3 L434.5 598.4 L433.5 599.5 L432.5 600.6 L431.4 601.6 L431.3 601.5 L430.9 603.0 L430.6 604.5 L430.3 606.0 L430.0 607.4 L429.7 608.9 L429.5 610.4 L429.2 611.9 L428.9 613.4 L428.7 614.9 L428.4 616.4 L428.2 617.9 L427.9 619.4 L427.7 620.9 L427.5 622.3 L427.3 623.8 L427.1 625.3 L426.9 626.8 L426.7 628.3 L426.5 629.8 L426.3 631.3 L426.2 632.8 L426.0 634.3 L425.8 635.8 L425.7 637.4 L425.6 638.9 L425.4 640.4 L425.3 641.9 L425.2 643.4 L425.1 644.9 L424.9 646.4 L424.8 647.9 L424.7 649.4 L424.7 650.9 L424.6 652.4 L424.5 653.9 L424.4 655.4 L424.3 656.9 L424.3 658.5 L424.2 660.0 L424.2 661.5 L424.1 663.0 L424.1 664.5 L424.1 666.0 L424.0 667.5 L424.0 669.0 L424.0 670.5 L424.0 672.1 L423.9 673.6 L423.9 675.1 L423.9 676.6 L423.9 678.1 L423.9 679.6 L424.0 681.1 L424.0 682.6 L424.0 684.1 L424.0 685.7 L424.0 687.2 L424.1 688.7 L424.1 690.2 L424.1 691.7 L424.2 693.2 L424.2 694.7 L424.3 696.2 L424.3 697.7 L424.4 699.3 L424.4 700.8 L424.5 702.3 L424.6 703.8 L424.6 705.3 L424.7 706.8 L424.8 708.3 L424.8 709.8 L424.9 711.3 L425.0 712.8 L425.1 714.3 L425.1 715.9 L425.2 717.4 L425.3 718.9 L425.4 720.4 L425.5 721.9 L425.6 723.4 L425.7 724.9 L425.8 726.4 L425.9 727.9 L426.0 729.4 L426.1 730.9 L426.2 732.4 L426.3 734.0 L426.4 735.5 L426.5 737.0 L426.6 738.5 L426.7 740.0 L426.8 741.5 L426.9 743.0 L427.0 744.5 L427.1 746.0 L427.2 747.5 L427.3 749.0 L427.4 750.5 L427.5 752.0 L427.7 753.6 L427.8 755.1 L427.9 756.6 L428.0 758.1 L428.1 759.6 L428.2 761.1 L428.3 762.6 L428.4 764.1 L428.5 765.6 L428.6 767.1 L428.7 768.6 L428.8 770.1 L428.9 771.6 L429.0 773.2 L429.1 774.7 L429.2 776.2 L429.3 777.7 L429.4 779.2 Z" fill="#f1f1f1" stroke="#0d0d0d" stroke-width="3.1" stroke-linejoin="round"/>
<g fill="#4a4a4a" stroke="none">
<path d="M248.8 294.6 L250.0 294.7 L251.3 294.7 L252.5 294.6 L253.8 294.6 L255.1 294.5 L256.3 294.4 L257.6 294.3 L258.8 294.2 L260.1 294.1 L261.3 294.0 L262.6 293.8 L263.8 293.7 L265.1 293.5 L266.3 293.3 L267.6 293.1 L268.8 292.9 L270.1 292.7 L271.3 292.4 L272.5 292.1 L272.5 291.9 L271.2 291.9 L270.0 292.0 L268.7 292.1 L267.5 292.2 L266.2 292.3 L265.0 292.4 L263.7 292.5 L262.5 292.6 L261.2 292.7 L260.0 292.9 L258.7 293.0 L257.5 293.2 L256.2 293.3 L255.0 293.5 L253.7 293.6 L252.5 293.8 L251.2 293.9 L250.0 294.1 L248.7 294.4 Z"/>
<path d="M252.5 339.6 L253.7 339.1 L254.8 338.5 L255.9 338.0 L257.1 337.5 L258.2 337.0 L259.4 336.6 L260.5 336.1 L261.7 335.8 L262.9 335.4 L264.0 335.0 L265.2 334.7 L266.4 334.4 L267.6 334.2 L268.8 334.0 L270.1 333.8 L271.3 333.6 L272.5 333.4 L273.8 333.3 L275.0 333.1 L275.0 332.9 L273.7 332.7 L272.5 332.7 L271.2 332.7 L270.0 332.8 L268.7 332.9 L267.4 333.1 L266.2 333.3 L264.9 333.5 L263.7 333.8 L262.5 334.2 L261.3 334.6 L260.1 335.0 L258.9 335.5 L257.8 336.1 L256.7 336.6 L255.6 337.3 L254.5 337.9 L253.4 338.6 L252.5 339.4 Z"/>
<path d="M306.2 297.9 L307.4 298.3 L308.5 298.6 L309.7 298.9 L310.9 299.1 L312.1 299.3 L313.3 299.5 L314.5 299.7 L315.7 299.8 L316.9 299.9 L318.1 300.0 L319.4 300.0 L320.6 300.0 L321.8 300.0 L323.0 299.9 L324.2 299.9 L325.4 299.7 L326.6 299.6 L327.8 299.4 L329.0 299.2 L330.2 299.0 L331.4 298.7 L332.6 298.4 L333.7 298.1 L334.9 297.8 L336.0 297.3 L336.0 297.1 L334.8 297.3 L333.6 297.5 L332.4 297.7 L331.2 297.9 L330.1 298.1 L328.9 298.2 L327.7 298.3 L326.5 298.5 L325.3 298.6 L324.1 298.6 L322.9 298.7 L321.7 298.7 L320.6 298.8 L319.4 298.8 L318.2 298.8 L317.0 298.7 L315.8 298.7 L314.6 298.6 L313.4 298.5 L312.2 298.4 L311.0 298.3 L309.9 298.1 L308.7 298.0 L307.5 297.8 L306.3 297.7 Z"/>
<path d="M307.5 243.1 L308.6 243.7 L309.8 244.1 L311.0 244.5 L312.2 244.8 L313.4 245.1 L314.7 245.4 L315.9 245.6 L317.2 245.7 L318.5 245.8 L319.7 245.9 L321.0 245.9 L322.3 245.9 L323.5 245.8 L324.8 245.7 L326.1 245.5 L327.3 245.3 L328.5 245.0 L329.8 244.7 L331.0 244.3 L332.2 243.9 L333.3 243.4 L333.3 243.2 L332.0 243.4 L330.8 243.7 L329.6 243.9 L328.4 244.1 L327.1 244.3 L325.9 244.4 L324.7 244.5 L323.5 244.6 L322.2 244.7 L321.0 244.7 L319.8 244.7 L318.5 244.6 L317.3 244.5 L316.1 244.4 L314.9 244.3 L313.6 244.1 L312.4 243.9 L311.2 243.7 L310.0 243.4 L308.8 243.1 L307.5 242.9 Z"/>
<path d="M306.3 358.8 L307.5 358.5 L308.6 358.1 L309.7 357.6 L310.9 357.2 L312.0 356.8 L313.1 356.4 L314.3 356.0 L315.4 355.6 L316.5 355.2 L317.7 354.8 L318.8 354.4 L319.9 354.0 L321.1 353.6 L322.2 353.2 L323.4 352.8 L324.5 352.5 L325.7 352.1 L326.8 351.7 L328.0 351.3 L329.1 351.0 L330.3 350.6 L331.4 350.3 L332.6 349.9 L333.7 349.6 L334.9 349.2 L336.0 348.8 L336.0 348.6 L334.8 348.7 L333.6 349.0 L332.4 349.2 L331.2 349.5 L330.0 349.7 L328.8 350.0 L327.7 350.3 L326.5 350.6 L325.3 351.0 L324.2 351.3 L323.0 351.7 L321.8 352.0 L320.7 352.4 L319.5 352.8 L318.4 353.2 L317.3 353.6 L316.1 354.1 L315.0 354.5 L313.9 355.0 L312.7 355.5 L311.6 355.9 L310.5 356.4 L309.4 357.0 L308.3 357.5 L307.3 358.0 L306.2 358.7 Z"/>
<path d="M362.2 216.8 L363.4 217.1 L364.6 217.3 L365.8 217.5 L367.1 217.7 L368.3 217.9 L369.5 218.0 L370.8 218.1 L372.0 218.3 L373.2 218.4 L374.5 218.5 L375.7 218.5 L377.0 218.6 L378.2 218.6 L379.4 218.7 L380.7 218.7 L381.9 218.7 L383.2 218.7 L384.4 218.6 L385.6 218.6 L386.9 218.5 L388.1 218.4 L389.4 218.4 L390.6 218.3 L391.8 218.1 L393.1 218.0 L394.3 217.9 L395.5 217.6 L395.5 217.4 L394.2 217.3 L393.0 217.4 L391.8 217.4 L390.5 217.4 L389.3 217.5 L388.1 217.5 L386.8 217.5 L385.6 217.5 L384.4 217.5 L383.2 217.5 L381.9 217.5 L380.7 217.4 L379.5 217.4 L378.2 217.4 L377.0 217.3 L375.8 217.3 L374.5 217.3 L373.3 217.2 L372.1 217.2 L370.8 217.1 L369.6 217.0 L368.4 217.0 L367.2 216.9 L365.9 216.8 L364.7 216.7 L363.5 216.6 L362.2 216.6 Z"/>
<path d="M360.8 280.9 L361.9 281.4 L363.1 281.8 L364.3 282.1 L365.5 282.4 L366.7 282.7 L367.9 283.0 L369.1 283.2 L370.3 283.4 L371.6 283.6 L372.8 283.7 L374.0 283.9 L375.3 283.9 L376.5 284.0 L377.7 284.0 L379.0 284.0 L380.2 284.0 L381.5 283.9 L382.7 283.8 L383.9 283.7 L385.2 283.6 L386.4 283.4 L387.6 283.2 L388.8 283.0 L390.0 282.6 L390.0 282.4 L388.7 282.4 L387.5 282.5 L386.3 282.6 L385.1 282.7 L383.9 282.8 L382.6 282.8 L381.4 282.8 L380.2 282.8 L379.0 282.8 L377.8 282.8 L376.6 282.8 L375.3 282.7 L374.1 282.6 L372.9 282.5 L371.7 282.4 L370.5 282.3 L369.3 282.1 L368.1 282.0 L366.9 281.8 L365.7 281.6 L364.5 281.4 L363.3 281.1 L362.1 280.9 L360.8 280.7 Z"/>
<path d="M351.7 341.8 L352.9 341.7 L354.1 341.5 L355.3 341.4 L356.5 341.3 L357.7 341.1 L358.9 341.1 L360.1 341.0 L361.3 340.9 L362.5 340.9 L363.7 340.9 L364.9 340.9 L366.1 340.9 L367.3 340.9 L368.5 341.0 L369.6 341.1 L370.8 341.2 L372.0 341.3 L373.2 341.4 L374.4 341.6 L375.6 341.8 L376.8 342.0 L377.9 342.2 L379.1 342.4 L380.3 342.7 L381.4 343.0 L382.6 343.3 L383.8 343.6 L385.0 343.8 L385.0 343.6 L383.9 343.1 L382.8 342.7 L381.6 342.3 L380.5 341.9 L379.3 341.6 L378.1 341.3 L377.0 341.0 L375.8 340.7 L374.6 340.5 L373.4 340.3 L372.2 340.1 L371.0 340.0 L369.7 339.8 L368.5 339.8 L367.3 339.7 L366.1 339.7 L364.9 339.7 L363.7 339.7 L362.4 339.8 L361.2 339.8 L360.0 339.9 L358.8 340.1 L357.6 340.3 L356.4 340.5 L355.2 340.7 L354.0 340.9 L352.8 341.2 L351.7 341.6 Z"/>
<path d="M423.0 240.9 L424.1 241.4 L425.4 241.7 L426.6 242.0 L427.9 242.1 L429.1 242.2 L430.4 242.2 L431.6 242.2 L432.9 242.1 L434.2 241.9 L435.4 241.8 L436.6 241.6 L437.9 241.4 L439.1 241.3 L440.3 241.1 L441.5 240.9 L442.8 240.8 L444.0 240.7 L445.2 240.6 L446.4 240.6 L447.6 240.7 L448.8 240.8 L450.0 241.0 L451.2 241.3 L452.4 241.6 L453.5 242.1 L454.7 242.6 L454.7 242.4 L453.7 241.6 L452.6 241.1 L451.4 240.6 L450.2 240.2 L449.0 239.9 L447.7 239.7 L446.5 239.6 L445.2 239.5 L443.9 239.5 L442.7 239.6 L441.4 239.7 L440.2 239.9 L438.9 240.0 L437.7 240.2 L436.5 240.4 L435.2 240.6 L434.0 240.8 L432.8 241.0 L431.6 241.1 L430.3 241.2 L429.1 241.3 L427.9 241.3 L426.7 241.2 L425.5 241.1 L424.3 240.9 L423.0 240.7 Z"/>
<path d="M419.2 290.9 L420.2 291.6 L421.3 292.1 L422.4 292.6 L423.5 293.1 L424.6 293.6 L425.7 294.0 L426.9 294.4 L428.1 294.8 L429.2 295.1 L430.4 295.4 L431.6 295.7 L432.8 295.9 L434.0 296.1 L435.2 296.3 L436.4 296.5 L437.7 296.6 L438.9 296.7 L440.1 296.8 L441.3 296.8 L442.5 296.9 L443.7 296.9 L445.0 296.9 L446.2 296.8 L447.4 296.8 L448.6 296.7 L449.8 296.6 L451.0 296.4 L451.0 296.2 L449.8 296.1 L448.6 296.1 L447.4 296.0 L446.2 296.0 L445.0 296.0 L443.8 295.9 L442.6 295.8 L441.4 295.7 L440.2 295.6 L439.0 295.5 L437.8 295.4 L436.6 295.2 L435.4 295.1 L434.2 294.9 L433.0 294.7 L431.9 294.5 L430.7 294.2 L429.5 294.0 L428.4 293.7 L427.2 293.4 L426.1 293.1 L424.9 292.7 L423.8 292.4 L422.6 292.0 L421.5 291.5 L420.4 291.1 L419.2 290.7 Z"/>
<path d="M403.3 345.4 L404.5 345.4 L405.8 345.4 L407.0 345.4 L408.2 345.6 L409.4 345.8 L410.6 346.0 L411.7 346.3 L412.9 346.7 L414.0 347.1 L415.2 347.5 L416.3 348.0 L417.4 348.5 L418.5 349.1 L419.6 349.6 L420.7 350.2 L421.8 350.8 L422.8 351.3 L423.9 351.9 L425.0 352.5 L426.1 353.1 L427.3 353.6 L428.4 354.1 L429.5 354.6 L430.7 355.1 L431.9 355.5 L433.1 355.9 L434.3 356.2 L435.5 356.5 L436.8 356.7 L438.0 356.8 L439.3 356.8 L440.5 356.8 L441.8 356.7 L443.0 356.5 L444.2 356.1 L444.2 355.9 L442.9 356.0 L441.7 356.1 L440.5 356.1 L439.3 356.1 L438.1 356.0 L436.9 355.8 L435.7 355.5 L434.5 355.2 L433.4 354.9 L432.2 354.5 L431.1 354.0 L430.0 353.6 L428.9 353.1 L427.8 352.5 L426.7 352.0 L425.6 351.4 L424.5 350.8 L423.4 350.2 L422.3 349.7 L421.2 349.1 L420.1 348.5 L419.0 348.0 L417.9 347.5 L416.7 347.0 L415.6 346.5 L414.4 346.1 L413.2 345.7 L412.0 345.4 L410.8 345.1 L409.5 345.0 L408.3 344.8 L407.0 344.8 L405.8 344.8 L404.5 344.9 L403.3 345.2 Z"/>
<path d="M263.8 387.6 L264.9 386.9 L265.9 386.2 L266.9 385.6 L268.0 384.9 L269.0 384.2 L270.0 383.6 L271.1 382.9 L272.1 382.3 L273.2 381.7 L274.3 381.1 L275.4 380.5 L276.4 379.9 L277.5 379.4 L278.6 378.8 L279.7 378.3 L280.9 377.8 L282.0 377.3 L283.1 376.8 L284.2 376.3 L285.4 375.8 L286.5 375.3 L287.7 374.9 L288.8 374.3 L288.7 374.2 L287.5 374.4 L286.3 374.7 L285.1 375.1 L283.9 375.4 L282.7 375.8 L281.6 376.3 L280.4 376.7 L279.3 377.2 L278.1 377.7 L277.0 378.3 L275.9 378.8 L274.8 379.4 L273.7 380.0 L272.6 380.7 L271.5 381.3 L270.5 382.0 L269.5 382.7 L268.4 383.4 L267.5 384.2 L266.5 384.9 L265.5 385.7 L264.6 386.5 L263.7 387.4 Z"/>
<path d="M296.3 455.1 L297.2 454.3 L298.1 453.5 L299.0 452.6 L299.8 451.8 L300.7 451.0 L301.6 450.2 L302.5 449.4 L303.4 448.6 L304.4 447.9 L305.3 447.1 L306.3 446.4 L307.2 445.7 L308.2 445.0 L309.2 444.3 L310.2 443.6 L311.1 442.9 L312.1 442.2 L313.2 441.6 L314.2 440.9 L315.2 440.3 L316.2 439.7 L317.3 439.1 L318.3 438.5 L319.4 437.9 L320.4 437.4 L321.5 436.8 L322.6 436.3 L323.6 435.7 L324.7 435.2 L325.8 434.7 L326.9 434.2 L328.0 433.7 L329.1 433.3 L330.2 432.8 L331.3 432.3 L332.4 431.9 L333.6 431.4 L334.7 431.0 L335.8 430.6 L336.9 430.2 L338.1 429.8 L339.2 429.4 L340.3 429.0 L341.5 428.7 L342.6 428.3 L343.8 427.9 L344.9 427.6 L346.1 427.3 L347.2 426.9 L348.4 426.6 L349.6 426.3 L350.7 426.0 L351.9 425.7 L353.1 425.4 L354.2 425.1 L355.4 424.8 L356.6 424.6 L357.7 424.3 L358.9 424.0 L360.1 423.8 L361.3 423.5 L362.4 423.3 L363.6 423.0 L364.8 422.8 L366.0 422.6 L367.2 422.4 L368.4 422.2 L369.5 422.0 L370.7 421.7 L371.9 421.6 L373.1 421.4 L374.3 421.2 L375.5 421.0 L376.7 420.8 L377.9 420.6 L379.0 420.5 L380.2 420.3 L381.4 420.1 L382.6 420.0 L383.8 419.8 L385.0 419.7 L386.2 419.6 L387.4 419.4 L388.6 419.3 L389.8 419.1 L391.0 419.0 L392.2 418.9 L393.4 418.8 L394.6 418.7 L395.8 418.5 L397.0 418.4 L398.2 418.3 L399.4 418.2 L400.6 418.1 L401.8 418.0 L403.0 417.9 L404.2 417.8 L405.4 417.7 L406.6 417.7 L407.8 417.6 L409.0 417.4 L410.2 417.3 L411.4 417.2 L412.6 417.0 L413.8 416.7 L415.0 416.4 L416.2 416.1 L417.3 415.7 L418.5 415.2 L419.6 414.7 L420.6 414.1 L421.6 413.4 L422.5 412.6 L422.5 412.5 L421.4 413.1 L420.4 413.7 L419.3 414.3 L418.3 414.7 L417.1 415.2 L416.0 415.5 L414.9 415.9 L413.7 416.1 L412.5 416.3 L411.3 416.5 L410.2 416.6 L409.0 416.7 L407.8 416.8 L406.6 416.9 L405.4 417.0 L404.1 417.0 L402.9 417.1 L401.7 417.2 L400.5 417.3 L399.3 417.3 L398.1 417.4 L396.9 417.5 L395.7 417.6 L394.5 417.7 L393.3 417.8 L392.1 417.9 L390.9 418.0 L389.7 418.1 L388.5 418.2 L387.3 418.4 L386.1 418.5 L384.9 418.6 L383.7 418.7 L382.5 418.9 L381.3 419.0 L380.1 419.2 L378.9 419.3 L377.7 419.5 L376.5 419.7 L375.3 419.8 L374.1 420.0 L372.9 420.2 L371.7 420.4 L370.5 420.6 L369.3 420.8 L368.1 421.0 L366.9 421.2 L365.8 421.4 L364.6 421.6 L363.4 421.8 L362.2 422.1 L361.0 422.3 L359.8 422.6 L358.6 422.8 L357.5 423.1 L356.3 423.3 L355.1 423.6 L353.9 423.9 L352.8 424.2 L351.6 424.5 L350.4 424.8 L349.2 425.1 L348.1 425.4 L346.9 425.7 L345.7 426.1 L344.6 426.4 L343.4 426.8 L342.3 427.1 L341.1 427.5 L340.0 427.9 L338.8 428.3 L337.7 428.7 L336.5 429.1 L335.4 429.5 L334.3 429.9 L333.1 430.4 L332.0 430.8 L330.9 431.3 L329.8 431.8 L328.7 432.2 L327.6 432.7 L326.5 433.2 L325.4 433.8 L324.3 434.3 L323.2 434.8 L322.1 435.4 L321.0 435.9 L320.0 436.5 L318.9 437.1 L317.9 437.7 L316.8 438.3 L315.8 438.9 L314.7 439.6 L313.7 440.2 L312.7 440.9 L311.7 441.5 L310.7 442.2 L309.7 442.9 L308.7 443.6 L307.7 444.4 L306.8 445.1 L305.8 445.8 L304.9 446.6 L304.0 447.4 L303.0 448.2 L302.1 449.0 L301.2 449.8 L300.4 450.6 L299.5 451.4 L298.6 452.3 L297.8 453.2 L296.9 454.0 L296.2 455.0 Z"/>
<path d="M341.1 557.0 L341.3 555.8 L341.4 554.6 L341.4 553.4 L341.5 552.2 L341.6 551.0 L341.7 549.8 L341.8 548.6 L341.9 547.4 L342.0 546.2 L342.1 545.0 L342.2 543.8 L342.3 542.6 L342.5 541.4 L342.6 540.2 L342.7 539.0 L342.9 537.8 L343.1 536.6 L343.2 535.4 L343.4 534.2 L343.6 533.0 L343.8 531.9 L344.0 530.7 L344.2 529.5 L344.4 528.3 L344.6 527.1 L344.8 525.9 L345.1 524.8 L345.3 523.6 L345.6 522.4 L345.9 521.2 L346.1 520.1 L346.4 518.9 L346.7 517.7 L347.0 516.6 L347.4 515.4 L347.7 514.3 L348.0 513.1 L348.4 512.0 L348.7 510.8 L349.1 509.7 L349.5 508.5 L349.9 507.4 L350.3 506.3 L350.7 505.2 L351.2 504.0 L351.6 502.9 L352.1 501.8 L352.6 500.7 L353.0 499.6 L353.5 498.5 L354.1 497.4 L354.6 496.4 L355.1 495.3 L355.7 494.2 L356.3 493.2 L356.8 492.1 L357.4 491.1 L358.0 490.1 L358.7 489.0 L359.3 488.0 L360.0 487.0 L360.6 486.0 L361.3 485.0 L362.0 484.1 L362.7 483.1 L363.4 482.1 L364.1 481.2 L364.9 480.2 L365.6 479.3 L366.4 478.4 L367.2 477.5 L367.9 476.6 L368.7 475.7 L369.6 474.8 L370.4 473.9 L371.2 473.0 L372.0 472.2 L372.9 471.3 L373.7 470.5 L374.6 469.7 L375.5 468.9 L376.4 468.1 L377.3 467.3 L378.2 466.5 L379.1 465.7 L380.0 465.0 L381.0 464.2 L381.9 463.5 L382.9 462.8 L383.8 462.0 L384.8 461.3 L385.8 460.6 L386.8 460.0 L387.8 459.3 L388.8 458.7 L389.8 458.0 L390.8 457.4 L391.9 456.8 L392.9 456.2 L393.9 455.6 L395.0 455.0 L396.0 454.4 L397.1 453.9 L398.2 453.3 L399.2 452.8 L400.3 452.3 L401.4 451.8 L402.5 451.3 L403.6 450.8 L404.7 450.3 L405.8 449.9 L406.9 449.4 L408.1 449.0 L409.2 448.6 L410.3 448.2 L411.4 447.8 L412.6 447.4 L413.7 447.0 L414.9 446.6 L416.0 446.3 L417.2 446.0 L418.3 445.6 L419.5 445.3 L420.6 445.0 L421.8 444.7 L423.0 444.5 L424.2 444.2 L425.3 444.0 L426.5 443.7 L427.7 443.5 L428.9 443.3 L430.1 443.1 L431.2 442.9 L432.4 442.7 L433.6 442.6 L434.8 442.5 L436.0 442.3 L437.2 442.2 L438.4 442.1 L439.6 442.1 L440.8 442.0 L442.0 442.0 L443.2 442.0 L444.4 442.0 L445.6 442.0 L446.8 442.1 L448.0 442.1 L449.2 442.2 L450.4 442.3 L451.6 442.4 L452.8 442.6 L454.0 442.7 L455.2 442.9 L456.4 443.1 L457.5 443.4 L458.7 443.5 L458.8 443.4 L457.6 443.0 L456.4 442.7 L455.2 442.5 L454.1 442.3 L452.9 442.1 L451.7 441.9 L450.5 441.8 L449.3 441.6 L448.0 441.5 L446.8 441.5 L445.6 441.4 L444.4 441.4 L443.2 441.3 L442.0 441.3 L440.8 441.3 L439.6 441.4 L438.4 441.4 L437.2 441.5 L435.9 441.6 L434.7 441.7 L433.5 441.8 L432.3 441.9 L431.1 442.1 L429.9 442.3 L428.7 442.4 L427.5 442.6 L426.3 442.9 L425.2 443.1 L424.0 443.3 L422.8 443.6 L421.6 443.8 L420.4 444.1 L419.2 444.4 L418.1 444.7 L416.9 445.0 L415.7 445.3 L414.6 445.7 L413.4 446.0 L412.3 446.4 L411.1 446.8 L410.0 447.2 L408.8 447.6 L407.7 448.0 L406.5 448.4 L405.4 448.9 L404.3 449.3 L403.2 449.8 L402.1 450.3 L401.0 450.7 L399.8 451.2 L398.8 451.8 L397.7 452.3 L396.6 452.8 L395.5 453.4 L394.4 454.0 L393.4 454.5 L392.3 455.1 L391.3 455.7 L390.2 456.4 L389.2 457.0 L388.1 457.6 L387.1 458.3 L386.1 459.0 L385.1 459.6 L384.1 460.3 L383.1 461.0 L382.1 461.8 L381.2 462.5 L380.2 463.2 L379.3 464.0 L378.3 464.8 L377.4 465.5 L376.5 466.3 L375.6 467.1 L374.7 467.9 L373.8 468.8 L372.9 469.6 L372.0 470.4 L371.2 471.3 L370.3 472.2 L369.5 473.0 L368.6 473.9 L367.8 474.8 L367.0 475.7 L366.2 476.7 L365.4 477.6 L364.7 478.5 L363.9 479.5 L363.2 480.4 L362.4 481.4 L361.7 482.4 L361.0 483.4 L360.3 484.3 L359.6 485.4 L358.9 486.4 L358.3 487.4 L357.7 488.4 L357.0 489.5 L356.4 490.5 L355.8 491.6 L355.2 492.6 L354.7 493.7 L354.1 494.8 L353.6 495.9 L353.0 497.0 L352.5 498.1 L352.0 499.2 L351.5 500.3 L351.1 501.4 L350.6 502.5 L350.2 503.6 L349.7 504.8 L349.3 505.9 L348.9 507.0 L348.5 508.2 L348.1 509.3 L347.8 510.5 L347.4 511.7 L347.1 512.8 L346.7 514.0 L346.4 515.1 L346.1 516.3 L345.8 517.5 L345.5 518.7 L345.2 519.8 L345.0 521.0 L344.7 522.2 L344.5 523.4 L344.2 524.6 L344.0 525.8 L343.8 527.0 L343.6 528.1 L343.4 529.3 L343.2 530.5 L343.0 531.7 L342.8 532.9 L342.6 534.1 L342.5 535.3 L342.3 536.5 L342.2 537.7 L342.1 538.9 L341.9 540.1 L341.8 541.3 L341.7 542.5 L341.6 543.7 L341.5 544.9 L341.4 546.1 L341.3 547.3 L341.2 548.5 L341.2 549.8 L341.1 551.0 L341.0 552.2 L341.0 553.4 L340.9 554.6 L340.9 555.8 L341.0 557.0 Z"/>
<path d="M493.7 420.4 L494.8 420.9 L495.9 421.3 L497.0 421.7 L498.2 422.1 L499.3 422.5 L500.4 423.0 L501.5 423.4 L502.7 423.8 L503.8 424.2 L504.9 424.6 L506.0 425.0 L507.1 425.5 L508.3 425.9 L509.4 426.3 L510.5 426.7 L511.6 427.2 L512.7 427.6 L513.9 428.0 L515.0 428.4 L516.2 428.8 L516.2 428.6 L515.2 427.9 L514.2 427.4 L513.1 426.8 L512.0 426.3 L510.9 425.8 L509.8 425.3 L508.7 424.8 L507.6 424.3 L506.5 423.9 L505.3 423.5 L504.2 423.0 L503.1 422.6 L501.9 422.3 L500.8 421.9 L499.6 421.6 L498.4 421.2 L497.3 420.9 L496.1 420.6 L494.9 420.4 L493.7 420.2 Z"/>
<path d="M471.2 495.0 L471.4 496.2 L471.7 497.4 L472.0 498.5 L472.2 499.7 L472.5 500.9 L472.8 502.0 L473.1 503.2 L473.3 504.4 L473.6 505.5 L473.8 506.7 L474.0 507.9 L474.3 509.1 L474.5 510.2 L474.7 511.4 L474.9 512.6 L475.1 513.8 L475.3 515.0 L475.4 516.1 L475.6 517.3 L475.8 518.5 L475.9 519.7 L476.1 520.9 L476.2 522.1 L476.3 523.3 L476.4 524.5 L476.6 525.6 L476.7 526.8 L476.8 528.0 L476.8 529.2 L476.9 530.4 L477.0 531.6 L477.1 532.8 L477.1 534.0 L477.2 535.2 L477.2 536.4 L477.3 537.6 L477.3 538.8 L477.4 540.0 L477.6 540.0 L477.8 538.8 L477.8 537.6 L477.9 536.4 L477.9 535.2 L477.9 534.0 L477.9 532.8 L477.9 531.6 L477.9 530.4 L477.9 529.2 L477.8 528.0 L477.8 526.8 L477.7 525.6 L477.6 524.4 L477.5 523.2 L477.4 522.0 L477.3 520.8 L477.1 519.6 L477.0 518.4 L476.8 517.2 L476.7 516.0 L476.5 514.8 L476.3 513.6 L476.1 512.4 L475.8 511.2 L475.6 510.0 L475.4 508.8 L475.1 507.7 L474.8 506.5 L474.5 505.3 L474.2 504.2 L473.9 503.0 L473.6 501.8 L473.3 500.7 L472.9 499.5 L472.6 498.4 L472.2 497.2 L471.8 496.1 L471.3 495.0 Z"/>
<path d="M290.0 635.6 L291.1 636.1 L292.2 636.6 L293.3 637.0 L294.5 637.4 L295.6 637.7 L296.8 638.1 L298.0 638.4 L299.2 638.7 L300.4 639.0 L301.6 639.2 L302.7 639.4 L304.0 639.6 L305.2 639.8 L306.4 640.0 L307.6 640.1 L308.8 640.2 L310.0 640.3 L311.2 640.3 L312.5 640.3 L313.7 640.3 L314.9 640.3 L316.1 640.2 L317.3 640.1 L318.6 640.0 L319.8 639.9 L321.0 639.7 L322.2 639.5 L323.4 639.3 L324.6 639.1 L325.8 638.8 L327.0 638.5 L328.1 638.2 L329.3 637.9 L330.5 637.5 L331.6 637.1 L332.8 636.7 L333.9 636.3 L335.0 635.8 L336.2 635.4 L337.2 634.8 L337.2 634.6 L336.0 634.9 L334.8 635.3 L333.7 635.7 L332.6 636.0 L331.4 636.4 L330.2 636.7 L329.1 637.0 L327.9 637.3 L326.7 637.5 L325.6 637.8 L324.4 638.0 L323.2 638.2 L322.0 638.4 L320.8 638.6 L319.6 638.7 L318.4 638.8 L317.3 638.9 L316.1 639.0 L314.9 639.0 L313.7 639.1 L312.5 639.1 L311.3 639.1 L310.1 639.0 L308.9 639.0 L307.7 638.9 L306.5 638.8 L305.3 638.7 L304.1 638.5 L302.9 638.4 L301.7 638.2 L300.6 638.0 L299.4 637.8 L298.2 637.5 L297.0 637.3 L295.9 637.0 L294.7 636.7 L293.5 636.4 L292.4 636.0 L291.2 635.7 L290.0 635.4 Z"/>
<path d="M378.9 615.4 L380.1 615.0 L381.2 614.5 L382.3 614.1 L383.5 613.7 L384.6 613.3 L385.8 612.9 L386.9 612.6 L388.1 612.3 L389.3 612.1 L390.4 611.8 L391.6 611.6 L392.8 611.4 L394.0 611.2 L395.2 611.0 L396.4 610.9 L397.6 610.7 L398.8 610.6 L400.0 610.4 L401.2 610.3 L402.4 610.2 L403.6 610.1 L404.8 609.9 L406.0 609.8 L407.2 609.7 L408.5 609.6 L409.7 609.4 L410.9 609.3 L412.1 609.1 L413.3 608.9 L414.5 608.8 L415.7 608.6 L416.9 608.3 L418.1 608.1 L419.3 607.8 L420.5 607.5 L421.7 607.2 L422.8 606.9 L424.0 606.5 L425.2 606.1 L426.3 605.7 L427.4 605.2 L428.6 604.7 L429.7 604.2 L430.7 603.6 L431.7 602.9 L431.7 602.7 L430.5 603.2 L429.4 603.7 L428.3 604.1 L427.2 604.6 L426.1 605.0 L424.9 605.4 L423.8 605.7 L422.6 606.0 L421.4 606.3 L420.3 606.6 L419.1 606.8 L417.9 607.0 L416.7 607.3 L415.5 607.4 L414.3 607.6 L413.1 607.8 L411.9 607.9 L410.7 608.1 L409.5 608.2 L408.3 608.3 L407.1 608.5 L405.9 608.6 L404.7 608.7 L403.5 608.8 L402.3 609.0 L401.1 609.1 L399.9 609.2 L398.7 609.4 L397.4 609.5 L396.2 609.7 L395.0 609.9 L393.8 610.1 L392.6 610.3 L391.4 610.6 L390.2 610.9 L389.0 611.2 L387.9 611.5 L386.7 611.8 L385.5 612.2 L384.4 612.6 L383.2 613.0 L382.1 613.5 L381.0 614.0 L379.9 614.6 L378.9 615.2 Z"/>
</g>
</g>
<g id="marks" fill="#0a0a0a" stroke="none">
<rect x="200.9" y="137.3" width="190.9" height="6.1"/>
<rect x="201" y="616.4" width="191" height="6.2"/>
<path d="M212.1 158.2 V602" fill="none" stroke="#0a0a0a" stroke-width="5.8" stroke-dasharray="5.8 5.15"/>
<path d="M212.2 143.7 L222.7 153.4 V162.1 L212.2 152.9 L201.9 162.1 V153.4 Z"/>
<path d="M211.9 616.6 L222.2 606.6 V598.6 L211.9 607.2 L201.7 598.6 V606.6 Z"/>
<path d="M248.8 401.9 L249.7 401.5 L250.7 401.2 L251.6 400.8 L252.5 400.4 L253.5 400.0 L254.4 399.7 L255.3 399.3 L256.3 398.9 L257.2 398.6 L258.1 398.2 L259.1 397.9 L260.0 397.5 L260.9 397.2 L261.9 396.8 L262.8 396.5 L263.7 396.1 L264.7 395.8 L265.6 395.4 L266.6 395.1 L267.5 394.8 L268.5 394.4 L269.4 394.1 L270.4 393.8 L271.3 393.4 L272.2 393.1 L273.2 392.8 L274.1 392.5 L275.1 392.2 L276.0 391.8 L277.0 391.5 L278.0 391.2 L278.9 390.9 L279.9 390.6 L280.8 390.3 L281.8 390.0 L282.7 389.7 L283.7 389.4 L284.6 389.1 L285.6 388.8 L286.6 388.5 L287.5 388.3 L288.5 388.0 L289.4 387.7 L290.4 387.4 L291.4 387.1 L292.3 386.9 L293.3 386.6 L294.3 386.3 L295.2 386.1 L296.2 385.8 L297.2 385.5 L298.1 385.3 L299.1 385.0 L300.1 384.8 L301.0 384.5 L302.0 384.3 L303.0 384.0 L303.9 383.8 L304.9 383.5 L305.9 383.3 L306.9 383.1 L307.8 382.8 L308.8 382.6 L309.8 382.4 L310.8 382.1 L311.7 381.9 L312.7 381.7 L313.7 381.5 L314.7 381.3 L315.6 381.0 L316.6 380.8 L317.6 380.6 L318.6 380.4 L319.6 380.2 L320.5 380.0 L321.5 379.8 L322.5 379.6 L323.5 379.4 L324.5 379.2 L325.5 379.0 L326.4 378.8 L327.4 378.6 L328.4 378.4 L329.4 378.3 L330.4 378.1 L331.4 377.9 L332.3 377.7 L333.3 377.6 L334.3 377.4 L335.3 377.2 L336.3 377.1 L337.3 376.9 L338.3 376.7 L339.3 376.6 L340.3 376.4 L341.2 376.3 L342.2 376.1 L343.2 376.0 L344.2 375.8 L345.2 375.7 L346.2 375.5 L347.2 375.4 L348.2 375.3 L349.2 375.1 L350.2 375.0 L351.2 374.9 L352.2 374.7 L353.1 374.6 L354.1 374.5 L355.1 374.4 L356.1 374.2 L357.1 374.1 L358.1 374.0 L359.1 373.9 L360.1 373.8 L361.1 373.7 L362.1 373.6 L363.1 373.5 L364.1 373.4 L365.1 373.3 L366.1 373.2 L367.1 373.1 L368.1 373.0 L369.1 372.9 L370.1 372.8 L371.1 372.8 L372.1 372.7 L373.1 372.6 L374.1 372.5 L375.1 372.5 L376.1 372.4 L377.1 372.3 L378.1 372.3 L379.1 372.2 L380.1 372.1 L381.1 372.1 L382.1 372.0 L383.1 372.0 L384.1 371.9 L385.1 371.9 L386.1 371.8 L387.1 371.8 L388.1 371.7 L389.1 371.7 L390.1 371.7 L391.1 371.6 L392.1 371.6 L393.1 371.6 L394.1 371.5 L395.1 371.5 L396.1 371.5 L397.1 371.5 L398.1 371.4 L399.1 371.4 L400.1 371.4 L401.1 371.4 L402.1 371.4 L403.1 371.4 L404.1 371.4 L405.1 371.4 L406.1 371.4 L407.1 371.4 L408.1 371.4 L409.1 371.4 L410.1 371.4 L411.1 371.4 L412.1 371.4 L413.1 371.5 L414.1 371.5 L415.1 371.5 L416.1 371.5 L417.1 371.6 L418.1 371.6 L419.1 371.6 L420.1 371.6 L421.1 371.7 L422.1 371.7 L423.1 371.8 L424.1 371.8 L425.1 371.9 L426.1 371.9 L427.1 372.0 L428.1 372.0 L429.1 372.1 L430.1 372.1 L431.1 372.2 L432.1 372.2 L433.1 372.3 L434.1 372.4 L435.1 372.4 L436.1 372.5 L437.1 372.6 L438.1 372.7 L439.1 372.7 L440.1 372.8 L441.1 372.9 L442.1 373.0 L443.1 373.1 L444.1 373.2 L445.1 373.3 L446.1 373.4 L447.1 373.5" fill="none" stroke="#0a0a0a" stroke-width="5.8" stroke-dasharray="5.800 5.118"/>
<path d="M226.25 389.1 L236.85 424.2" fill="none" stroke="#0a0a0a" stroke-width="5.3"/>
<path d="M465.95 357.3 L462.7 393.6" fill="none" stroke="#0a0a0a" stroke-width="5.5"/>
<path d="M235.8 406.7 L242.9 393.2 L247.9 391.5 L244.2 402.5 L255.8 409.2 L248.3 413.5 Z"/>
<path d="M445 363.2 L453.3 363.75 L461.25 374.2 L451.25 383.75 L442.3 383.3 L450.6 373.75 Z"/>
</g>
<g id="badges" font-weight="bold">
<circle cx="350.4" cy="396.4" r="14.9" fill="#0b0b0b" stroke="#f8f8f8" stroke-width="0.7"/>
<text x="343.3" y="404.7" font-size="25" fill="#ffd530" stroke="#ffd530" stroke-width="0.6" textLength="14.3" lengthAdjust="spacingAndGlyphs">A</text>
<circle cx="189.65" cy="425.45" r="14.6" fill="#0b0b0b"/>
<text x="183.5" y="434.3" font-size="24" fill="#ffd530" stroke="#ffd530" stroke-width="0.6" textLength="12.5" lengthAdjust="spacingAndGlyphs">B</text>
</g>
<g id="table">
<rect x="20.75" y="805.75" width="678.00" height="34.55" fill="#ffcd34"/>
<path d="M98.25 840.30 V983.30 M173.25 840.30 V983.30 M248.50 840.30 V983.30 M323.25 840.30 V983.30 M398.50 840.30 V983.30 M473.50 840.30 V983.30 M548.50 840.30 V983.30 M623.75 840.30 V983.30 M20.75 911.75 H698.75" fill="none" stroke="#8a8a8a" stroke-width="1"/>
<path d="M98.25 805.75 V840.30 M173.25 805.75 V840.30 M248.50 805.75 V840.30 M323.25 805.75 V840.30 M398.50 805.75 V840.30 M473.50 805.75 V840.30 M548.50 805.75 V840.30 M623.75 805.75 V840.30 M20.75 840.30 H698.75" fill="none" stroke="#171717" stroke-width="1.2"/>
<rect x="20.75" y="805.75" width="678.00" height="177.55" fill="none" stroke="#141414" stroke-width="1.35"/>
<text x="118.75" y="831.00" font-size="19.5" font-weight="bold" fill="#141414" stroke="#141414" stroke-width="0.60" stroke-linejoin="round" textLength="35.51" lengthAdjust="spacingAndGlyphs">XXS</text>
<text x="200.00" y="831.00" font-size="19.5" font-weight="bold" fill="#141414" stroke="#141414" stroke-width="0.60" stroke-linejoin="round" textLength="23.01" lengthAdjust="spacingAndGlyphs">XS</text>
<text x="280.24" y="831.00" font-size="19.5" font-weight="bold" fill="#141414" stroke="#141414" stroke-width="0.60" stroke-linejoin="round" textLength="11.30" lengthAdjust="spacingAndGlyphs">S</text>
<text x="352.58" y="831.00" font-size="19.5" font-weight="bold" fill="#141414" stroke="#141414" stroke-width="0.60" stroke-linejoin="round" textLength="17.32" lengthAdjust="spacingAndGlyphs">M</text>
<text x="430.90" y="831.00" font-size="19.5" font-weight="bold" fill="#141414" stroke="#141414" stroke-width="0.60" stroke-linejoin="round" textLength="9.88" lengthAdjust="spacingAndGlyphs">L</text>
<text x="500.75" y="831.00" font-size="19.5" font-weight="bold" fill="#141414" stroke="#141414" stroke-width="0.60" stroke-linejoin="round" textLength="20.75" lengthAdjust="spacingAndGlyphs">XL</text>
<text x="569.50" y="831.00" font-size="19.5" font-weight="bold" fill="#141414" stroke="#141414" stroke-width="0.60" stroke-linejoin="round" textLength="33.75" lengthAdjust="spacingAndGlyphs">XXL</text>
<text x="638.75" y="831.00" font-size="19.5" font-weight="bold" fill="#141414" stroke="#141414" stroke-width="0.60" stroke-linejoin="round" textLength="45.75" lengthAdjust="spacingAndGlyphs">XXXL</text>
<text x="54.09" y="866.00" font-size="20.4" font-weight="bold" fill="#141414" stroke="#141414" stroke-width="0.60" stroke-linejoin="round" textLength="11.75" lengthAdjust="spacingAndGlyphs">A</text>
<text x="44.41" y="884.00" font-size="14.9" font-weight="bold" fill="#141414" stroke="#141414" stroke-width="0.60" stroke-linejoin="round" textLength="31.16" lengthAdjust="spacingAndGlyphs">Hand</text>
<text x="43.74" y="902.00" font-size="14.9" font-weight="bold" fill="#141414" stroke="#141414" stroke-width="0.60" stroke-linejoin="round" textLength="33.16" lengthAdjust="spacingAndGlyphs">Width</text>
<text x="54.11" y="937.00" font-size="20.4" font-weight="bold" fill="#141414" stroke="#141414" stroke-width="0.60" stroke-linejoin="round" textLength="11.05" lengthAdjust="spacingAndGlyphs">B</text>
<text x="44.43" y="955.00" font-size="14.9" font-weight="bold" fill="#141414" stroke="#141414" stroke-width="0.60" stroke-linejoin="round" textLength="31.00" lengthAdjust="spacingAndGlyphs">Hand</text>
<text x="39.52" y="973.00" font-size="14.9" font-weight="bold" fill="#141414" stroke="#141414" stroke-width="0.60" stroke-linejoin="round" textLength="40.46" lengthAdjust="spacingAndGlyphs">Length</text>
<text x="116.48" y="871.00" font-size="16.0" font-weight="bold" fill="#141414" stroke="#141414" stroke-width="0.30" stroke-linejoin="round" textLength="38.45" lengthAdjust="spacingAndGlyphs">7.8 cm</text>
<text x="190.98" y="873.00" font-size="16.0" font-weight="bold" fill="#141414" stroke="#141414" stroke-width="0.30" stroke-linejoin="round" textLength="39.79" lengthAdjust="spacingAndGlyphs">8.2 cm</text>
<text x="266.73" y="873.00" font-size="16.0" font-weight="bold" fill="#141414" stroke="#141414" stroke-width="0.30" stroke-linejoin="round" textLength="39.04" lengthAdjust="spacingAndGlyphs">8.6 cm</text>
<text x="347.73" y="873.00" font-size="16.0" font-weight="bold" fill="#141414" stroke="#141414" stroke-width="0.30" stroke-linejoin="round" textLength="27.55" lengthAdjust="spacingAndGlyphs">9 cm</text>
<text x="417.23" y="873.00" font-size="16.0" font-weight="bold" fill="#141414" stroke="#141414" stroke-width="0.30" stroke-linejoin="round" textLength="38.54" lengthAdjust="spacingAndGlyphs">9.4 cm</text>
<text x="492.23" y="873.00" font-size="16.0" font-weight="bold" fill="#141414" stroke="#141414" stroke-width="0.30" stroke-linejoin="round" textLength="38.54" lengthAdjust="spacingAndGlyphs">9.8 cm</text>
<text x="562.23" y="873.00" font-size="16.0" font-weight="bold" fill="#141414" stroke="#141414" stroke-width="0.30" stroke-linejoin="round" textLength="47.80" lengthAdjust="spacingAndGlyphs">10.2 cm</text>
<text x="637.23" y="873.00" font-size="16.0" font-weight="bold" fill="#141414" stroke="#141414" stroke-width="0.30" stroke-linejoin="round" textLength="47.80" lengthAdjust="spacingAndGlyphs">10.6 cm</text>
<text x="124.62" y="894.00" font-size="16.0" font-weight="bold" fill="#141414" stroke="#141414" stroke-width="0.30" stroke-linejoin="round" textLength="23.56" lengthAdjust="spacingAndGlyphs">3.1&quot;</text>
<text x="198.49" y="892.00" font-size="16.0" font-weight="bold" fill="#141414" stroke="#141414" stroke-width="0.30" stroke-linejoin="round" textLength="24.78" lengthAdjust="spacingAndGlyphs">3.2&quot;</text>
<text x="273.49" y="892.00" font-size="16.0" font-weight="bold" fill="#141414" stroke="#141414" stroke-width="0.30" stroke-linejoin="round" textLength="24.78" lengthAdjust="spacingAndGlyphs">3.4&quot;</text>
<text x="348.99" y="892.00" font-size="16.0" font-weight="bold" fill="#141414" stroke="#141414" stroke-width="0.30" stroke-linejoin="round" textLength="24.28" lengthAdjust="spacingAndGlyphs">3.5&quot;</text>
<text x="423.99" y="892.00" font-size="16.0" font-weight="bold" fill="#141414" stroke="#141414" stroke-width="0.30" stroke-linejoin="round" textLength="24.28" lengthAdjust="spacingAndGlyphs">3.7&quot;</text>
<text x="498.99" y="892.00" font-size="16.0" font-weight="bold" fill="#141414" stroke="#141414" stroke-width="0.30" stroke-linejoin="round" textLength="24.28" lengthAdjust="spacingAndGlyphs">3.9&quot;</text>
<text x="579.97" y="892.00" font-size="16.0" font-weight="bold" fill="#141414" stroke="#141414" stroke-width="0.30" stroke-linejoin="round" textLength="12.82" lengthAdjust="spacingAndGlyphs">4&quot;</text>
<text x="648.73" y="892.00" font-size="16.0" font-weight="bold" fill="#141414" stroke="#141414" stroke-width="0.30" stroke-linejoin="round" textLength="25.04" lengthAdjust="spacingAndGlyphs">4.2&quot;</text>
<text x="118.51" y="944.00" font-size="16.0" font-weight="bold" fill="#141414" stroke="#141414" stroke-width="0.30" stroke-linejoin="round" textLength="34.37" lengthAdjust="spacingAndGlyphs">16 cm</text>
<text x="193.97" y="944.00" font-size="16.0" font-weight="bold" fill="#141414" stroke="#141414" stroke-width="0.30" stroke-linejoin="round" textLength="33.56" lengthAdjust="spacingAndGlyphs">17 cm</text>
<text x="268.97" y="944.00" font-size="16.0" font-weight="bold" fill="#141414" stroke="#141414" stroke-width="0.30" stroke-linejoin="round" textLength="33.56" lengthAdjust="spacingAndGlyphs">18 cm</text>
<text x="343.71" y="944.00" font-size="16.0" font-weight="bold" fill="#141414" stroke="#141414" stroke-width="0.30" stroke-linejoin="round" textLength="34.59" lengthAdjust="spacingAndGlyphs">19 cm</text>
<text x="418.48" y="944.00" font-size="16.0" font-weight="bold" fill="#141414" stroke="#141414" stroke-width="0.30" stroke-linejoin="round" textLength="36.04" lengthAdjust="spacingAndGlyphs">20 cm</text>
<text x="494.73" y="944.00" font-size="16.0" font-weight="bold" fill="#141414" stroke="#141414" stroke-width="0.30" stroke-linejoin="round" textLength="33.30" lengthAdjust="spacingAndGlyphs">21 cm</text>
<text x="568.48" y="944.00" font-size="16.0" font-weight="bold" fill="#141414" stroke="#141414" stroke-width="0.30" stroke-linejoin="round" textLength="36.04" lengthAdjust="spacingAndGlyphs">22 cm</text>
<text x="643.98" y="944.00" font-size="16.0" font-weight="bold" fill="#141414" stroke="#141414" stroke-width="0.30" stroke-linejoin="round" textLength="35.04" lengthAdjust="spacingAndGlyphs">23 cm</text>
<text x="123.37" y="963.00" font-size="16.0" font-weight="bold" fill="#141414" stroke="#141414" stroke-width="0.30" stroke-linejoin="round" textLength="24.90" lengthAdjust="spacingAndGlyphs">6.3&quot;</text>
<text x="198.22" y="963.00" font-size="16.0" font-weight="bold" fill="#141414" stroke="#141414" stroke-width="0.30" stroke-linejoin="round" textLength="24.56" lengthAdjust="spacingAndGlyphs">6.7&quot;</text>
<text x="274.47" y="963.00" font-size="16.0" font-weight="bold" fill="#141414" stroke="#141414" stroke-width="0.30" stroke-linejoin="round" textLength="23.31" lengthAdjust="spacingAndGlyphs">7.1&quot;</text>
<text x="348.97" y="963.00" font-size="16.0" font-weight="bold" fill="#141414" stroke="#141414" stroke-width="0.30" stroke-linejoin="round" textLength="23.80" lengthAdjust="spacingAndGlyphs">7.5&quot;</text>
<text x="423.97" y="963.00" font-size="16.0" font-weight="bold" fill="#141414" stroke="#141414" stroke-width="0.30" stroke-linejoin="round" textLength="24.30" lengthAdjust="spacingAndGlyphs">7.9&quot;</text>
<text x="498.47" y="963.00" font-size="16.0" font-weight="bold" fill="#141414" stroke="#141414" stroke-width="0.30" stroke-linejoin="round" textLength="24.80" lengthAdjust="spacingAndGlyphs">8.3&quot;</text>
<text x="574.22" y="963.00" font-size="16.0" font-weight="bold" fill="#141414" stroke="#141414" stroke-width="0.30" stroke-linejoin="round" textLength="24.05" lengthAdjust="spacingAndGlyphs">8.7&quot;</text>
<text x="649.72" y="963.00" font-size="16.0" font-weight="bold" fill="#141414" stroke="#141414" stroke-width="0.30" stroke-linejoin="round" textLength="22.80" lengthAdjust="spacingAndGlyphs">9.1&quot;</text>
</g>
</svg>
</body></html>
